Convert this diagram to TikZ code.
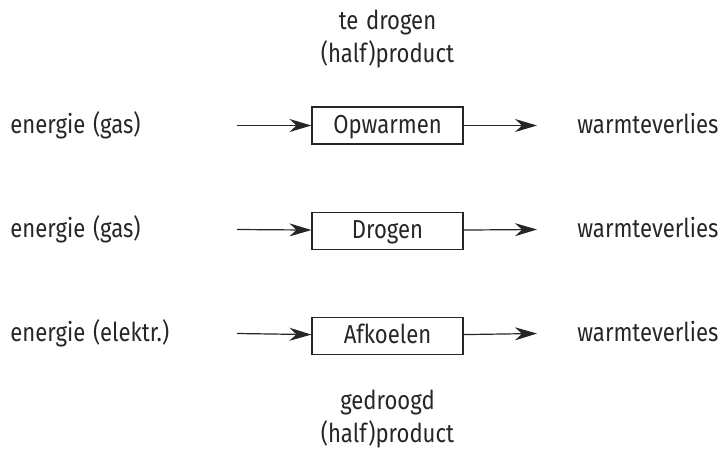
\documentclass[tikz,border=0pt]{standalone}
\usepackage{fontspec}
\setmainfont{Fira Sans}[FakeStretch=0.85, WordSpace=1.3]
\usetikzlibrary{arrows.meta, positioning}

\begin{document}
\begin{tikzpicture}[x=0.5pt, y=-0.5pt, node distance=33.5pt, >={Stealth[length=11pt,width=6.5pt,inset=3.5pt]},
  every node/.style={text=black!85, font=\fontsize{13}{16.5}\selectfont},
  proc/.style={draw=black!85, line width=0.55pt, minimum width=75.5pt, minimum height=18.5pt, inner sep=0pt, text height=1.8ex, text depth=0.3ex},
  side/.style={anchor=west, inner sep=0pt, text height=1.8ex, text depth=0.3ex},
  flow/.style={draw=black!85, line width=0.6pt, ->}]
  \useasboundingbox (0,0) rectangle (723,450);
  \node[proc] (op) at (387.5,125.5) {Opwarmen};
  \node[proc, below=of op] (dr) {Drogen};
  \node[proc, below=of dr] (af) {Afkoelen};
  \node[align=center] (feed) at (387.5,39) {te drogen\\(half)product};
  \node[align=center] (dry) at (387.5,419) {gedroogd\\(half)product};
  % energie in
  \node[side] (eop) at (10,125.5) {energie (gas)};
  \node[side] (edr) at (10,229.5) {energie (gas)};
  \node[side] (eaf) at (10,333.5) {energie (elektr.)};
  \coordinate (op-in) at (237,125.5);
  \coordinate (dr-in) at (237,229.5);
  \coordinate (af-in) at (237,333.5);
  % warmteverlies uit
  \node[side] (wop) at (577,125.5) {warmteverlies};
  \node[side] (wdr) at (577,229.5) {warmteverlies};
  \node[side] (waf) at (577,333.5) {warmteverlies};
  \coordinate (op-out) at (537,125.5);
  \coordinate (dr-out) at (537,229.5);
  \coordinate (af-out) at (537,333.5);
  \draw[flow] (op-in) -- (op);
  \draw[flow] (dr-in) -- (dr);
  \draw[flow] (af-in) -- (af);
  \draw[flow] (op) -- (op-out);
  \draw[flow] (dr) -- (dr-out);
  \draw[flow] (af) -- (af-out);
\end{tikzpicture}
\end{document}
